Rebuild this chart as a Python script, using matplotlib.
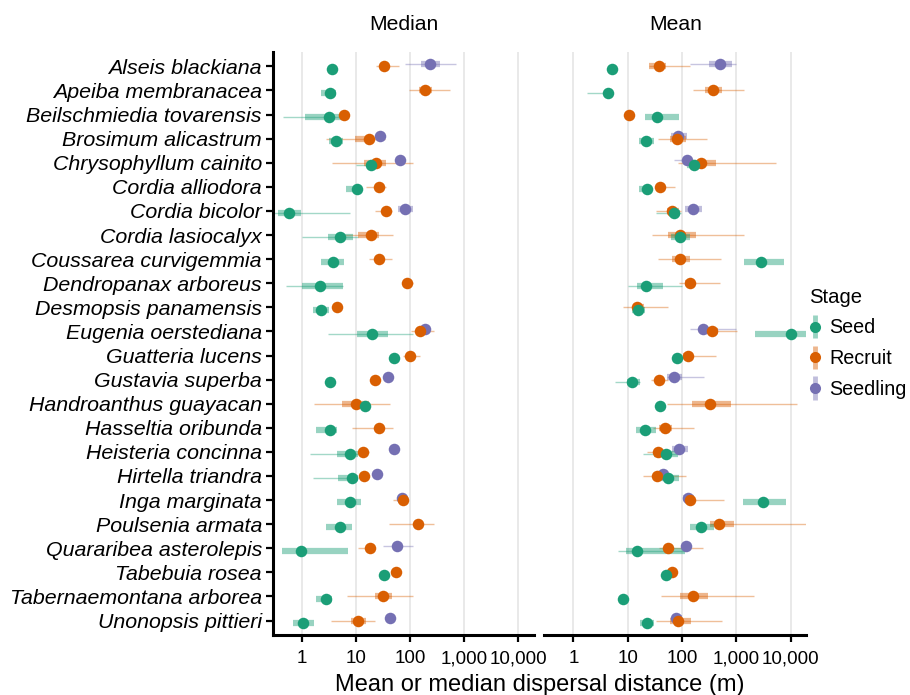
import matplotlib
matplotlib.use("Agg")
import numpy as np
import matplotlib.pyplot as plt
from matplotlib.lines import Line2D
from matplotlib.legend_handler import HandlerBase

plt.rcParams['font.family'] = ['Liberation Sans', 'DejaVu Sans']

species = ["Alseis blackiana", "Apeiba membranacea", "Beilschmiedia tovarensis",
           "Brosimum alicastrum", "Chrysophyllum cainito", "Cordia alliodora",
           "Cordia bicolor", "Cordia lasiocalyx", "Coussarea curvigemmia",
           "Dendropanax arboreus", "Desmopsis panamensis", "Eugenia oerstediana",
           "Guatteria lucens", "Gustavia superba", "Handroanthus guayacan",
           "Hasseltia oribunda", "Heisteria concinna", "Hirtella triandra",
           "Inga marginata", "Poulsenia armata", "Quararibea asterolepis",
           "Tabebuia rosea", "Tabernaemontana arborea", "Unonopsis pittieri"]

stages = ["Seed", "Recruit", "Seedling"]
colors = {"Seed": "#1b9e77", "Recruit": "#d95f02", "Seedling": "#7570b3"}
N = None

# each entry: (estimate, inner low, inner high, outer low, outer high)
median_seed = [
    (3.6, N, N, N, N), (3.3, 2.2, 4.3, N, N), (3.2, 1.15, 6.8, 0.45, 6.8),
    (4.2, 3.2, 5.6, N, N), (19, 16, 23, 10, 25), (10.4, 6.5, 12.4, N, N),
    (0.58, 0.36, 0.96, 0.3, 7.7), (5.1, 3.0, 8.8, 1.0, 11), (3.7, 2.2, 5.9, N, N),
    (2.15, 1.0, 5.6, 0.5, 5.6), (2.25, 1.6, 3.2, N, N), (20, 10.5, 39, 3.0, 110),
    (50, N, N, N, N), (3.3, N, N, N, N), (14.4, N, N, N, N),
    (3.3, 1.8, 4.5, N, N), (7.8, 4.4, 11, 1.4, 11), (8.4, 4.6, 11, 1.6, 11),
    (7.6, 4.4, 12.4, N, N), (5.1, 2.8, 8.4, N, N), (0.95, 0.43, 7.1, N, N),
    (32, N, N, N, N), (2.75, 1.8, 3.6, N, N), (1.05, 0.67, 1.67, N, N)]

median_recruit = [
    (33, N, N, 23, 63), (186, 144, 250, 95, 550), (6.0, N, N, N, N),
    (17, 9.5, 19, 2.75, 34), (23, 14, 36, 3.6, 110), (26, N, N, 15, 36),
    (36, N, N, 22, 45), (19, 11, 26, 6, 48), (26, N, N, 17, 46),
    (88, N, N, 78, 110), (4.4, N, N, 3.8, 5.2), (152, N, N, 105, 275),
    (100, N, N, 73, 150), (22, N, N, N, N), (10, 5.5, 17, 1.67, 43),
    (26, N, N, 8.4, 48), (13.5, N, N, 11, 17), (14, N, N, N, N),
    (73, N, N, 48, 80), (138, N, N, 40, 270), (18, N, N, 11, 22),
    (54, N, N, N, N), (31, 22, 45, 6.8, 112), (11, 8.1, 15.3, 3.4, 22)]

median_seedling = [
    (234, 160, 360, 80, 700), N, N, (27, N, N, N, N), (65, N, N, N, N), N,
    (81, 60, 110, N, N), N, N, N, N, (190, N, N, N, N),
    N, (38, N, N, N, N), N, N, (50, N, N, N, N), (24, 21, 28, N, N),
    (70, N, N, N, N), N, (58, N, N, 31, 110), N, N, (43, N, N, N, N)]

mean_seed = [
    (5.2, N, N, N, N), (4.3, N, N, 1.76, 4.3), (34, 21, 89, N, N),
    (21.4, 16, 30, N, N), (165, 124, 220, N, N), (22.6, 16, 27, N, N),
    (72, 59, 93, 33, 96), (91, 63, 139, N, N), (2900, 1370, 7600, N, N),
    (21.4, 15, 44, 10, 100), (15.7, 12, 21, N, N), (10400, 2240, 20000, N, N),
    (81, N, N, N, N), (12, 9.7, 17, 5.8, 17), (39, N, N, N, N),
    (21, 14, 33, N, N), (50, 31, 83, 19, 83), (56, 38, 90, N, N),
    (3080, 1330, 8400, N, N), (222, 141, 395, N, N), (14.6, 9.5, 112, 6.7, 112),
    (50, N, N, N, N), (8.3, N, N, N, N), (22.4, 17, 31, N, N)]

mean_recruit = [
    (38, 25, 51, 25, 141), (375, 270, 550, 163, 1420), (10.8, N, N, N, N),
    (80, 61, 119, 37, 288), (223, 127, 427, 86, 5500), (40, N, N, 33, 74),
    (67, 53, 90, 33, 96), (91, 56, 182, 28, 1370), (94, 65, 143, 37, 530),
    (141, 115, 175, 90, 510), (15, 12.5, 20, 8.3, 55), (365, 280, 460, 200, 1050),
    (128, 105, 160, 105, 430), (38, N, N, 27, 55), (335, 154, 810, 53, 12900),
    (49.5, 38, 65, 29, 165), (37, N, N, 23, 67), (34, N, N, 19, 119),
    (139, N, N, 120, 590), (490, 323, 910, 323, 19600), (55, N, N, 38, 240),
    (65, N, N, 55, 80), (161, 94, 300, 41, 2140), (86, 59, 147, 33, 550)]

mean_seedling = [
    (505, 313, 850, 138, 1000), N, N, (85, 62, 125, N, N), (123, N, N, 70, 130), N,
    (158, 114, 235, N, N), N, N, N, N, (246, N, N, 141, 1000),
    N, (71, 52, 99, 52, 252), N, N, (88, 66, 128, N, N), (44, 35, 55, N, N),
    (130, 105, 165, N, N), N, (121, 100, 150, N, N), N, N, (78, 65, 100, N, N)]

panels = [("Median", {"Seed": median_seed, "Recruit": median_recruit, "Seedling": median_seedling}),
          ("Mean", {"Seed": mean_seed, "Recruit": mean_recruit, "Seedling": mean_seedling})]

xticks = [1, 10, 100, 1000, 10000]
xticklabels = ["1", "10", "100", "1,000", "10,000"]
dodge = {"Seedling": -0.1, "Recruit": 0.0, "Seed": 0.1}
draw_order = ["Seedling", "Recruit", "Seed"]

fig = plt.figure(figsize=(9.1, 6.95), dpi=100)
ax_pos = [[0.300, 0.0863, 0.287, 0.839], [0.598, 0.0863, 0.288, 0.839]]
FS = 15.2

for k, (title, data) in enumerate(panels):
    ax = fig.add_axes(ax_pos[k])
    ax.set_xscale("log")
    for x in xticks:
        ax.axvline(x, color="#e3e3e3", lw=1.1, zorder=0)
    # intervals
    for st in draw_order:
        for i, row in enumerate(data[st]):
            if row is None:
                continue
            est, lo, hi, lo2, hi2 = row
            y = i + dodge[st]
            if lo2 is not None:
                ax.plot([lo2, hi2], [y, y], color=colors[st], lw=1.0, alpha=0.4,
                        solid_capstyle="butt", zorder=2)
            if lo is not None:
                ax.plot([lo, hi], [y, y], color=colors[st], lw=4.5, alpha=0.45,
                        solid_capstyle="butt", zorder=3)
    # points
    for j, st in enumerate(draw_order):
        ys, xs = [], []
        for i, row in enumerate(data[st]):
            if row is None:
                continue
            ys.append(i + dodge[st])
            xs.append(row[0])
        ax.plot(xs, ys, "o", color=colors[st], ms=8.3, mew=0, zorder=4 + j)

    ax.set_xlim(0.29, 19500)
    ax.set_ylim(len(species) - 0.4, -0.6)
    ax.set_xticks(xticks)
    ax.set_xticklabels(xticklabels, fontsize=13.6)
    ax.xaxis.set_minor_locator(matplotlib.ticker.NullLocator())
    ax.tick_params(axis="x", length=5, width=1.6, pad=6)
    ax.set_title(title, fontsize=FS, pad=16)
    for s in ["top", "right"]:
        ax.spines[s].set_visible(False)
    ax.spines["bottom"].set_linewidth(2.2)
    if k == 0:
        ax.set_yticks(range(len(species)))
        ax.set_yticklabels(species, fontsize=15.4, style="italic")
        ax.tick_params(axis="y", length=5, width=1.6, pad=3)
        ax.spines["left"].set_linewidth(2.2)
    else:
        ax.spines["left"].set_visible(False)
        ax.set_yticks([])

fig.text(0.593, 0.014, "Mean or median dispersal distance (m)", fontsize=17,
         ha="center", va="center")


class VHandler(HandlerBase):
    def create_artists(self, legend, orig_handle, xdescent, ydescent, width,
                       height, fontsize, trans):
        c = orig_handle.get_color()
        x = width / 2 - xdescent
        yc = height / 2 - ydescent
        bar = Line2D([x, x], [yc - height * 0.85, yc + height * 0.85], color=c,
                     lw=3.5, alpha=0.45, solid_capstyle="butt", transform=trans)
        dot = Line2D([x], [yc], marker="o", ms=8, mew=0, color=c, transform=trans)
        return [bar, dot]


handles = [Line2D([], [], color=colors[s]) for s in stages]
leg = fig.legend(handles, stages, loc="center left", bbox_to_anchor=(0.869, 0.506),
                 frameon=False, fontsize=14.2, title="Stage", title_fontsize=14.6,
                 handler_map={Line2D: VHandler()}, handlelength=0.7,
                 handletextpad=0.35, labelspacing=0.6, alignment="left")

fig.savefig("out.png", dpi=100)
